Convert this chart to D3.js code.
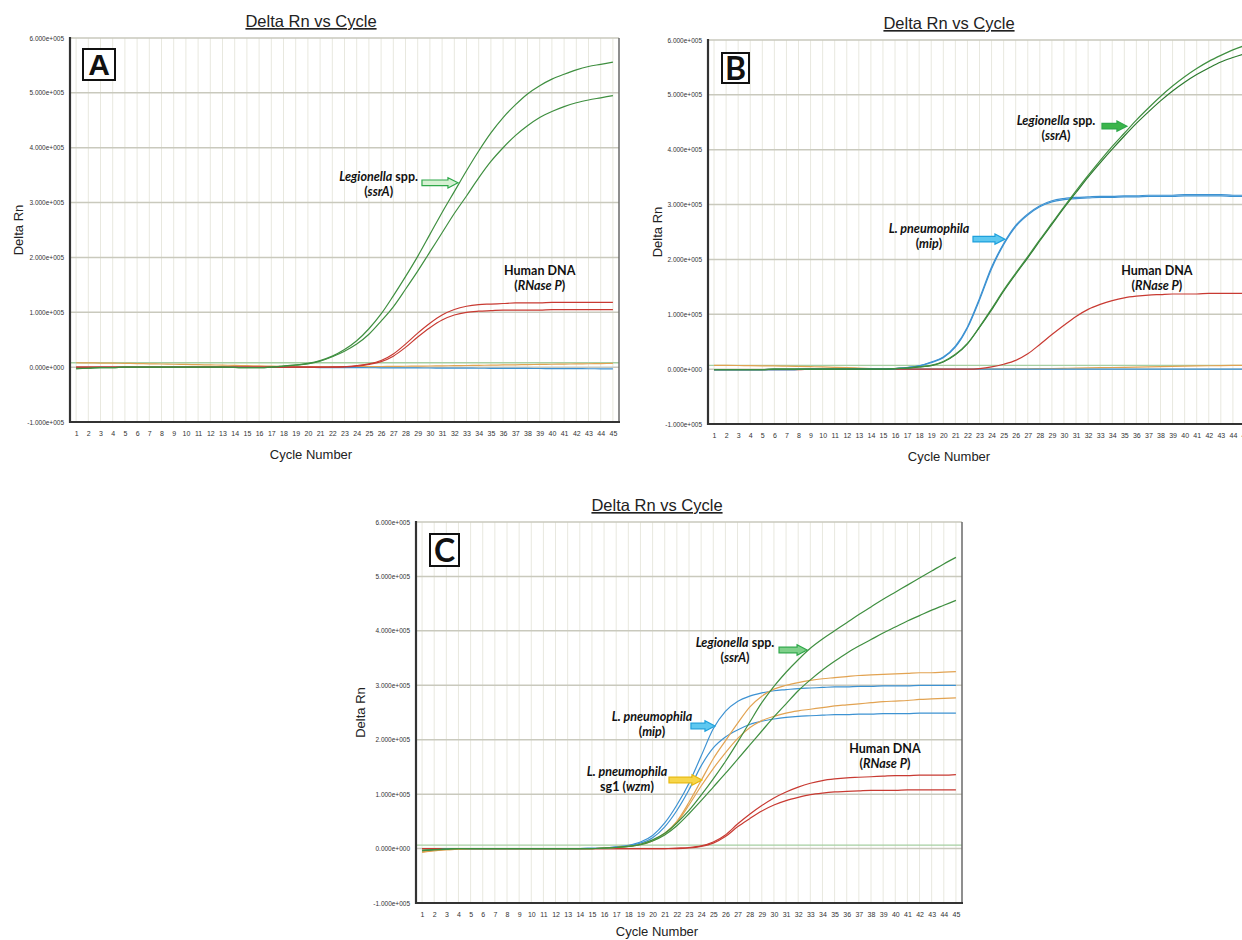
<!DOCTYPE html>
<html>
<head>
<meta charset="utf-8">
<script src="https://cdn.jsdelivr.net/npm/d3@7"></script>
<style>
  body { margin: 0; background: #fff; }
  svg { display: block; }
  .tick text { font-family: "Liberation Sans", Arial, sans-serif; fill: #333; }
  .title { font-family: "Liberation Sans", Arial, sans-serif; font-size: 16.5px; text-decoration: underline; fill: #222; }
  .axis-label { font-family: "Liberation Sans", Arial, sans-serif; font-size: 13px; fill: #222; }
  .note { font-family: Lato, "Open Sans", sans-serif; font-weight: bold; font-size: 12.5px; fill: #111; }
</style>
</head>
<body>
<script>
// amplification plots, Delta Rn in units of 1e5, one value per cycle

const cycles = [1,2,3,4,5,6,7,8,9,10,11,12,13,14,15,16,17,18,19,20,21,22,23,24,25,26,27,28,29,30,31,32,33,34,35,36,37,38,39,40,41,42,43,44,45];
const yTicks = [-1, 0, 1, 2, 3, 4, 5, 6];
const yTickLabels = ['-1.000e+005','0.000e+000','1.000e+005','2.000e+005','3.000e+005','4.000e+005','5.000e+005','6.000e+005'];
const thresholds = { A: 0.08, B: 0.07, C: 0.065 };

// --- panel A
const A_ssrA_1 = [-0.02,-0.02,-0.01,-0.01,0,0,0,0,0,0,0,0,0,-0.005,-0.01,-0.01,0.0,0.02,0.04,0.07,0.12,0.2,0.32,0.48,0.7,0.97,1.3,1.65,2.02,2.42,2.82,3.2,3.58,3.94,4.27,4.55,4.78,4.98,5.13,5.25,5.34,5.42,5.48,5.52,5.56];
const A_ssrA_2 = [-0.03,-0.02,-0.01,-0.01,0,0,0,0,0,0,0,0,0,-0.005,-0.01,-0.01,0.0,0.02,0.035,0.06,0.11,0.19,0.29,0.42,0.6,0.84,1.1,1.42,1.75,2.1,2.45,2.8,3.12,3.45,3.75,4.0,4.22,4.4,4.55,4.66,4.75,4.82,4.87,4.91,4.95];
const A_rnp_1 = [0,0,0,0,0,0,0,0,0,0,0,0,0,0,0,0,0,0,0,0,0,0.005,0.01,0.03,0.06,0.12,0.24,0.42,0.62,0.8,0.95,1.05,1.11,1.14,1.15,1.16,1.17,1.17,1.17,1.18,1.18,1.18,1.18,1.18,1.18];
const A_rnp_2 = [0,0,0,0,0,0,0,0,0,0,0,0,0,0,0,0,0,0,0,0,0,0,0.005,0.02,0.05,0.1,0.2,0.36,0.55,0.72,0.86,0.95,1.0,1.02,1.03,1.04,1.04,1.04,1.04,1.05,1.05,1.05,1.05,1.05,1.05];
const A_neg_1 = [0.08,0.078,0.075,0.072,0.069,0.065,0.061,0.057,0.053,0.049,0.045,0.041,0.037,0.032,0.027,0.022,0.017,0.013,0.01,0.008,0.007,0.007,0.008,0.009,0.01,0.012,0.014,0.016,0.018,0.021,0.024,0.027,0.03,0.033,0.036,0.04,0.043,0.047,0.05,0.053,0.056,0.059,0.062,0.065,0.068];
const A_neg_2 = [-0.01,-0.008,-0.006,-0.005,-0.004,-0.003,-0.002,-0.002,-0.001,0,0,0,0,0,-0.001,-0.002,-0.003,-0.004,-0.005,-0.006,-0.007,-0.008,-0.009,-0.01,-0.011,-0.012,-0.013,-0.014,-0.015,-0.016,-0.017,-0.018,-0.019,-0.02,-0.021,-0.022,-0.023,-0.024,-0.025,-0.026,-0.027,-0.028,-0.029,-0.03,-0.03];

// --- panel B
const B_ssrA_1 = [-0.01,-0.01,-0.01,-0.01,-0.01,0,0,0,0,0,0,0,0,0,0,0.01,0.02,0.04,0.07,0.14,0.27,0.47,0.77,1.1,1.44,1.75,2.05,2.36,2.66,2.96,3.25,3.53,3.8,4.06,4.3,4.54,4.76,4.97,5.16,5.33,5.48,5.61,5.72,5.82,5.9];
const B_ssrA_2 = [-0.01,-0.01,-0.01,-0.01,-0.01,0,0,0,0,0,0,0,0,0,0,0.01,0.02,0.04,0.065,0.13,0.26,0.46,0.76,1.08,1.42,1.73,2.03,2.34,2.64,2.94,3.22,3.5,3.76,4.01,4.25,4.48,4.69,4.89,5.07,5.23,5.37,5.49,5.6,5.68,5.75];
const B_mip_1 = [-0.01,-0.01,-0.01,-0.01,-0.01,-0.01,-0.01,-0.005,0,0,0,0,0,0,0,0.01,0.03,0.06,0.13,0.22,0.42,0.77,1.29,1.86,2.29,2.62,2.83,2.98,3.07,3.11,3.13,3.14,3.15,3.15,3.16,3.16,3.17,3.17,3.17,3.18,3.18,3.18,3.18,3.17,3.17];
const B_mip_2 = [-0.01,-0.01,-0.01,-0.01,-0.01,-0.01,-0.01,-0.005,0,0,0,0,0,0,0,0.01,0.03,0.06,0.12,0.21,0.4,0.75,1.26,1.83,2.27,2.6,2.81,2.96,3.05,3.09,3.11,3.12,3.13,3.13,3.14,3.14,3.15,3.15,3.15,3.16,3.16,3.16,3.16,3.15,3.15];
const B_rnp_1 = [-0.01,-0.01,-0.01,-0.01,-0.01,-0.01,-0.01,-0.01,0,0,0,0,0,0,0,0,0,0,0,0,0,0,0.01,0.04,0.09,0.16,0.28,0.45,0.63,0.8,0.96,1.09,1.18,1.25,1.3,1.33,1.35,1.36,1.37,1.37,1.37,1.38,1.38,1.38,1.38];
const B_neg_1 = [0.07,0.068,0.066,0.064,0.061,0.058,0.054,0.05,0.045,0.04,0.034,0.028,0.02,0.012,0.005,0,-0.003,-0.004,-0.004,-0.004,-0.003,-0.002,-0.001,0,0.002,0.004,0.006,0.009,0.012,0.015,0.018,0.022,0.026,0.03,0.034,0.038,0.042,0.046,0.05,0.054,0.058,0.062,0.065,0.068,0.07];
const B_neg_2 = [-0.01,-0.01,-0.009,-0.008,-0.007,-0.006,-0.005,-0.004,-0.003,-0.002,-0.002,-0.001,-0.001,0,0,0,0,0,0,0,0,0,0,0,0,0,0,0,0,0,0,0,0,0,0,0,0,0,0,0,0,0,0,0,0];

// --- panel C
const C_ssrA_1 = [-0.03,-0.02,-0.01,0,0,0,0,0,0,0,0,0,0,0,0,0.01,0.02,0.04,0.08,0.16,0.28,0.47,0.7,0.98,1.28,1.6,1.95,2.32,2.68,2.98,3.24,3.47,3.68,3.85,4.0,4.15,4.3,4.44,4.58,4.71,4.84,4.97,5.1,5.23,5.35];
const C_ssrA_2 = [-0.04,-0.02,-0.01,0,0,0,0,0,0,0,0,0,0,0,0,0.01,0.02,0.04,0.07,0.14,0.25,0.42,0.64,0.88,1.13,1.38,1.64,1.9,2.16,2.42,2.66,2.9,3.1,3.28,3.44,3.59,3.72,3.84,3.96,4.07,4.18,4.28,4.38,4.47,4.56];
const C_wzm_1 = [-0.07,-0.04,-0.02,-0.01,0,0,0,0,0,0,0,0,0,0,0,0.01,0.02,0.04,0.08,0.15,0.28,0.5,0.85,1.25,1.65,1.98,2.3,2.6,2.8,2.93,3.0,3.05,3.09,3.12,3.14,3.16,3.18,3.19,3.2,3.21,3.22,3.23,3.23,3.24,3.25];
const C_wzm_2 = [-0.06,-0.04,-0.02,-0.01,0,0,0,0,0,0,0,0,0,0,0,0.01,0.02,0.04,0.07,0.14,0.27,0.48,0.8,1.15,1.47,1.76,2.02,2.22,2.35,2.43,2.49,2.53,2.56,2.59,2.62,2.64,2.66,2.68,2.7,2.71,2.72,2.74,2.75,2.76,2.77];
const C_mip_1 = [-0.04,-0.03,-0.01,0,0,0,0,0,0,0,0,0,0,0,0.005,0.01,0.03,0.06,0.12,0.24,0.47,0.8,1.2,1.7,2.2,2.52,2.7,2.8,2.86,2.9,2.92,2.94,2.95,2.96,2.97,2.97,2.98,2.98,2.99,2.99,2.99,3.0,3.0,3.0,3.0];
const C_mip_2 = [-0.05,-0.03,-0.01,0,0,0,0,0,0,0,0,0,0,0,0.005,0.01,0.03,0.05,0.1,0.2,0.4,0.7,1.08,1.52,1.85,2.05,2.18,2.28,2.34,2.38,2.41,2.43,2.44,2.45,2.46,2.46,2.47,2.47,2.48,2.48,2.48,2.49,2.49,2.49,2.49];
const C_rnp_1 = [0,0,0,0,0,0,0,0,0,0,0,0,0,0,0,0,0,0,0,0,0,0.01,0.02,0.05,0.12,0.25,0.45,0.63,0.79,0.93,1.04,1.13,1.2,1.25,1.28,1.3,1.31,1.32,1.33,1.34,1.34,1.35,1.35,1.35,1.36];
const C_rnp_2 = [0,0,0,0,0,0,0,0,0,0,0,0,0,0,0,0,0,0,0,0,0,0,0.01,0.04,0.1,0.22,0.4,0.55,0.69,0.8,0.88,0.94,0.99,1.02,1.04,1.05,1.06,1.07,1.07,1.07,1.08,1.08,1.08,1.08,1.08];

const COLORS = {
    green: '#3f8f40', greenDark: '#2c7a2e', red: '#c83a32', blue: '#3d92d2',
    orange: '#e2a352', thresh: '#a6cfa2', hgrid: '#c9c9bd', vgrid: '#e8e8df'
};

const panels = [
    {
        id: 'A', x0: 70, x1: 619, y0: 38, y1: 422, letterFont: '"Liberation Sans", Arial, sans-serif',
        box: { dx: 13, dy: 11, w: 32, h: 31 }, yLabelDx: -52, cycleLabelDy: 37, threshold: thresholds.A,
        series: [
            { v: A_neg_1, c: COLORS.orange }, { v: A_neg_2, c: COLORS.blue },
            { v: A_rnp_1, c: COLORS.red }, { v: A_rnp_2, c: COLORS.red },
            { v: A_ssrA_1, c: COLORS.green }, { v: A_ssrA_2, c: COLORS.green }
        ],
        notes: [
            { c: 25.8, v: 3.39, lines: [[['Legionella', 1], [' spp.', 0]], [['(', 0], ['ssrA', 1], [')', 0]]] },
            { c: 39.0, v: 1.68, lines: [[['Human DNA', 0]], [['(', 0], ['RNase P', 1], [')', 0]]] }
        ],
        arrows: [{ c0: 29.35, c1: 32.3, v: 3.36, fill: '#d6f0d2', stroke: '#2fa84a' }]
    },
    {
        id: 'B', x0: 708, x1: 1251, y0: 40, y1: 424, letterFont: 'Lato, sans-serif',
        box: { dx: 14, dy: 13, w: 27, h: 30 }, yLabelDx: -51, cycleLabelDy: 37, threshold: thresholds.B,
        series: [
            { v: B_neg_1, c: COLORS.orange }, { v: B_neg_2, c: COLORS.blue },
            { v: B_rnp_1, c: COLORS.red },
            { v: B_mip_2, c: COLORS.blue }, { v: B_mip_1, c: COLORS.blue },
            { v: B_ssrA_2, c: COLORS.greenDark }, { v: B_ssrA_1, c: COLORS.green }
        ],
        notes: [
            { c: 29.34, v: 4.45, lines: [[['Legionella', 1], [' spp.', 0]], [['(', 0], ['ssrA', 1], [')', 0]]] },
            { c: 18.81, v: 2.48, lines: [[['L. pneumophila', 1]], [['(', 0], ['mip', 1], [')', 0]]] },
            { c: 37.7, v: 1.72, lines: [[['Human DNA', 0]], [['(', 0], ['RNase P', 1], [')', 0]]] }
        ],
        arrows: [
            { c0: 33.15, c1: 35.22, v: 4.43, fill: '#3bb54a', stroke: '#2fa84a' },
            { c0: 22.46, c1: 25.11, v: 2.37, fill: '#5ec8f0', stroke: '#1fa0dc' }
        ]
    },
    {
        id: 'C', x0: 416, x1: 962, y0: 522, y1: 903, letterFont: 'Lato, sans-serif',
        box: { dx: 14, dy: 12, w: 29, h: 32 }, yLabelDx: -56, cycleLabelDy: 33, threshold: thresholds.C,
        series: [
            { v: C_rnp_1, c: COLORS.red }, { v: C_rnp_2, c: COLORS.red },
            { v: C_mip_1, c: COLORS.blue }, { v: C_mip_2, c: COLORS.blue },
            { v: C_wzm_1, c: COLORS.orange }, { v: C_wzm_2, c: COLORS.orange },
            { v: C_ssrA_1, c: COLORS.green }, { v: C_ssrA_2, c: COLORS.green }
        ],
        notes: [
            { c: 26.79, v: 3.70, lines: [[['Legionella', 1], [' spp.', 0]], [['(', 0], ['ssrA', 1], [')', 0]]] },
            { c: 19.95, v: 2.344, lines: [[['L. pneumophila', 1]], [['(', 0], ['mip', 1], [')', 0]]] },
            { c: 17.89, v: 1.333, lines: [[['L. pneumophila', 1]], [['sg1 (', 0], ['wzm', 1], [')', 0]]] },
            { c: 39.15, v: 1.756, lines: [[['Human DNA', 0]], [['(', 0], ['RNase P', 1], [')', 0]]] }
        ],
        arrows: [
            { c0: 30.42, c1: 32.73, v: 3.648, fill: '#7fd08a', stroke: '#2fa84a' },
            { c0: 23.16, c1: 25.14, v: 2.252, fill: '#5ec8f0', stroke: '#1fa0dc' },
            { c0: 21.35, c1: 24.07, v: 1.26, fill: '#f7d64a', stroke: '#e8b90e' }
        ]
    }
];

const svg = d3.select('body').append('svg')
    .attr('width', 1242)
    .attr('height', 940);

svg.append('rect').attr('width', 1242).attr('height', 940).attr('fill', '#fff');

panels.forEach(p => {
    const x = d3.scaleLinear().domain([0.5, 45.5]).range([p.x0, p.x1]);
    const y = d3.scaleLinear().domain([-1, 6]).range([p.y1, p.y0]);
    const g = svg.append('g').attr('class', 'panel-' + p.id);

    // vertical grid, one line per cycle
    g.append('g').selectAll('line')
        .data(cycles)
        .join('line')
        .attr('x1', d => x(d)).attr('x2', d => x(d))
        .attr('y1', p.y0).attr('y2', p.y1)
        .attr('stroke', COLORS.vgrid).attr('stroke-width', 1);

    // horizontal grid
    g.append('g').selectAll('line')
        .data(yTicks.filter(t => t >= 0))
        .join('line')
        .attr('x1', p.x0).attr('x2', p.x1)
        .attr('y1', d => y(d)).attr('y2', d => y(d))
        .attr('stroke', COLORS.hgrid).attr('stroke-width', 1.5);

    // threshold
    g.append('line')
        .attr('x1', p.x0).attr('x2', p.x1)
        .attr('y1', y(p.threshold)).attr('y2', y(p.threshold))
        .attr('stroke', COLORS.thresh).attr('stroke-width', 1.3);

    const line = d3.line()
        .x((d, i) => x(cycles[i]))
        .y(d => y(d))
        .curve(d3.curveMonotoneX);

    g.append('g').selectAll('path')
        .data(p.series)
        .join('path')
        .attr('d', s => line(s.v))
        .attr('fill', 'none')
        .attr('stroke', s => s.c)
        .attr('stroke-width', 1.2);

    // frame
    g.append('line').attr('x1', p.x1).attr('x2', p.x1).attr('y1', p.y0).attr('y2', p.y1)
        .attr('stroke', '#6a6a6a').attr('stroke-width', 1.5);
    g.append('line').attr('x1', p.x0).attr('x2', p.x0).attr('y1', p.y0 - 1).attr('y2', p.y1 + 1)
        .attr('stroke', '#333').attr('stroke-width', 2.2);
    g.append('line').attr('x1', p.x0 - 1).attr('x2', p.x1 + 1).attr('y1', p.y1).attr('y2', p.y1)
        .attr('stroke', '#333').attr('stroke-width', 2.2);

    // axes
    const xAxis = d3.axisBottom(x).tickValues(cycles).tickSize(0).tickPadding(9);
    const gx = g.append('g').attr('transform', `translate(0,${p.y1})`).call(xAxis);
    gx.select('.domain').remove();
    gx.selectAll('text').attr('font-size', 7);

    const yAxis = d3.axisLeft(y).tickValues(yTicks).tickSize(0).tickPadding(6)
        .tickFormat((d, i) => yTickLabels[i]);
    const gy = g.append('g').attr('transform', `translate(${p.x0},0)`).call(yAxis);
    gy.select('.domain').remove();
    gy.selectAll('text').attr('font-size', 6.5).attr('fill', '#444');

    // titles
    g.append('text').attr('class', 'title')
        .attr('x', p.x0 + 241).attr('y', p.y0 - 11)
        .attr('text-anchor', 'middle')
        .text('Delta Rn vs Cycle');
    g.append('text').attr('class', 'axis-label')
        .attr('x', p.x0 + 241).attr('y', p.y1 + p.cycleLabelDy)
        .attr('text-anchor', 'middle')
        .text('Cycle Number');
    g.append('text').attr('class', 'axis-label')
        .attr('transform', `translate(${p.x0 + p.yLabelDx},${(p.y0 + p.y1) / 2}) rotate(-90)`)
        .attr('text-anchor', 'middle')
        .attr('dy', '0.35em')
        .text('Delta Rn');

    // panel letter
    g.append('rect')
        .attr('x', p.x0 + p.box.dx).attr('y', p.y0 + p.box.dy)
        .attr('width', p.box.w).attr('height', p.box.h)
        .attr('fill', '#fff').attr('stroke', '#111').attr('stroke-width', 2);
    g.append('text')
        .attr('x', p.x0 + p.box.dx + p.box.w / 2)
        .attr('y', p.y0 + p.box.dy + p.box.h / 2)
        .attr('dy', '0.36em')
        .attr('text-anchor', 'middle')
        .attr('font-family', p.letterFont)
        .attr('font-weight', 'bold')
        .attr('font-size', p.id === 'A' ? 30 : 32)
        .attr('fill', '#111')
        .text(p.id);

    // annotations
    p.notes.forEach(n => {
        n.lines.forEach((ln, k) => {
            const t = g.append('text').attr('class', 'note')
                .attr('x', x(n.c)).attr('y', y(n.v) + k * 15)
                .attr('text-anchor', 'middle');
            ln.forEach(([txt, it]) => {
                t.append('tspan').attr('font-style', it ? 'italic' : 'normal').text(txt);
            });
        });
    });

    // block arrows
    g.append('g').selectAll('path')
        .data(p.arrows)
        .join('path')
        .attr('d', a => {
            const xa = x(a.c0), xb = x(a.c1), yc = y(a.v);
            const head = 10, sh = 2.8, hh = 5.2;
            return `M${xa},${yc - sh}L${xb - head},${yc - sh}L${xb - head},${yc - hh}L${xb},${yc}` +
                `L${xb - head},${yc + hh}L${xb - head},${yc + sh}L${xa},${yc + sh}Z`;
        })
        .attr('fill', a => a.fill)
        .attr('stroke', a => a.stroke)
        .attr('stroke-width', 1.2);
});
</script>
</body>
</html>
